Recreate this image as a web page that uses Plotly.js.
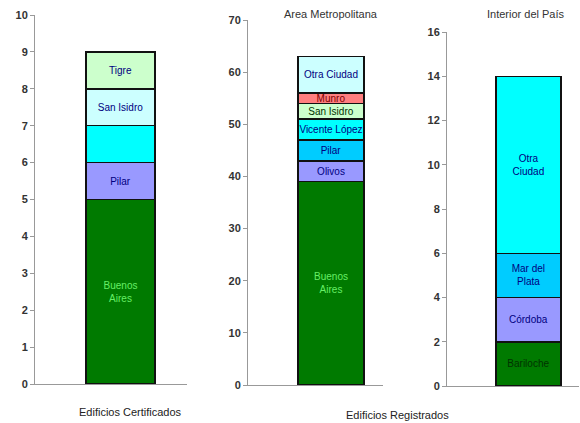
<!DOCTYPE html>
<html><head><meta charset="utf-8">
<script src="https://cdn.plot.ly/plotly-3.0.1.min.js"></script>
<style>body{margin:0;background:#fff}#chart{width:580px;height:423px}</style>
</head><body><div id="chart"></div>
<script>
// Chart 1: Edificios Certificados
const certCities = ["Buenos<br>Aires", "Pilar", "", "San Isidro", "Tigre"];
const certValues = [5, 1, 1, 1, 1];
const certColors = ["#007a00", "#9999ff", "#00ffff", "#ccffff", "#ccffcc"];
const certText   = ["#66ee66", "#000080", "#000080", "#000080", "#000080"];
const certTicks  = [0, 1, 2, 3, 4, 5, 6, 7, 8, 9, 10];

// Chart 2: Area Metropolitana (Edificios Registrados)
const metroCities = ["Buenos<br>Aires", "Olivos", "Pilar", "Vicente López", "San Isidro", "Munro", "Otra Ciudad"];
const metroValues = [39, 4, 4, 4, 3, 2, 7];
const metroColors = ["#007a00", "#9999ff", "#00ccff", "#00ffff", "#ccffcc", "#ff7f7f", "#ccffff"];
const metroText   = ["#66ee66", "#000080", "#000080", "#000080", "#003300", "#800000", "#000080"];
const metroTicks  = [0, 10, 20, 30, 40, 50, 60, 70];

// Chart 3: Interior del País (Edificios Registrados)
const intCities = ["Bariloche", "Córdoba", "Mar del<br>Plata", "Otra<br>Ciudad"];
const intValues = [2, 2, 2, 8];
const intColors = ["#007a00", "#9999ff", "#00ccff", "#00ffff"];
const intText   = ["#003300", "#000080", "#000080", "#000080"];
const intTicks  = [0, 2, 4, 6, 8, 10, 12, 14, 16];

const FONT = "Liberation Sans, Arial, sans-serif";
const traces = [];
function addStack(cities, values, colors, tcolors, xa, ya) {
  cities.forEach((c, i) => {
    traces.push({
      type: "bar", x: [0], y: [values[i]], width: [1],
      xaxis: xa, yaxis: ya,
      marker: {color: colors[i], line: {color: "#111", width: 1.5}},
      text: [c], textposition: "inside", insidetextanchor: "middle",
      textangle: 0, constraintext: "none",
      textfont: {family: FONT, size: 10, color: tcolors[i]},
      hoverinfo: "skip", showlegend: false
    });
  });
}
addStack(certCities, certValues, certColors, certText, "x", "y");
addStack(metroCities, metroValues, metroColors, metroText, "x2", "y2");
addStack(intCities, intValues, intColors, intText, "x3", "y3");

const H = 423, W = 580;
const yax = (top, bottom, ticks) => ({
  domain: [(H - bottom) / H, (H - top) / H], range: [ticks[0], ticks[ticks.length - 1]],
  tickmode: "array", tickvals: ticks, ticktext: ticks.map(t => "<b>" + t + "</b>"),
  showgrid: false, zeroline: false, showline: true, linecolor: "#999", linewidth: 1,
  ticks: "outside", ticklen: 4, tickcolor: "#999",
  tickfont: {family: FONT, size: 11, color: "#333"}
});
const xax = (l, r, range, anchor) => ({
  domain: [l / W, r / W], range: range, anchor: anchor,
  showgrid: false, zeroline: false, showline: true, linecolor: "#999", linewidth: 1,
  showticklabels: false, ticks: ""
});

const ann = (text, px, py, color) => ({
  text: text, x: px / W, y: (H - py) / H, xref: "paper", yref: "paper",
  xanchor: "center", yanchor: "middle", showarrow: false,
  font: {family: FONT, size: 11, color: color}
});

const layout = {
  width: W, height: H, margin: {l: 0, r: 0, t: 0, b: 0},
  paper_bgcolor: "#fff", plot_bgcolor: "#fff",
  barmode: "stack", bargap: 0,
  xaxis: xax(35, 187, [-1.239, 0.964], "y"),
  yaxis: Object.assign(yax(15, 384, certTicks), {anchor: "x"}),
  xaxis2: xax(248, 383, [-1.258, 0.788], "y2"),
  yaxis2: Object.assign(yax(20, 385, metroTicks), {anchor: "x2"}),
  xaxis3: xax(447, 579, [-1.254, 0.78], "y3"),
  yaxis3: Object.assign(yax(32, 386, intTicks), {anchor: "x3"}),
  annotations: [
    ann("Area Metropolitana", 331, 14, "#333"),
    ann("Interior del País", 526, 14, "#333"),
    ann("Edificios Certificados", 130, 412, "#222"),
    ann("Edificios Registrados", 397, 415, "#222")
  ]
};
Plotly.newPlot("chart", traces, layout, {displayModeBar: false, staticPlot: true});
</script></body></html>
